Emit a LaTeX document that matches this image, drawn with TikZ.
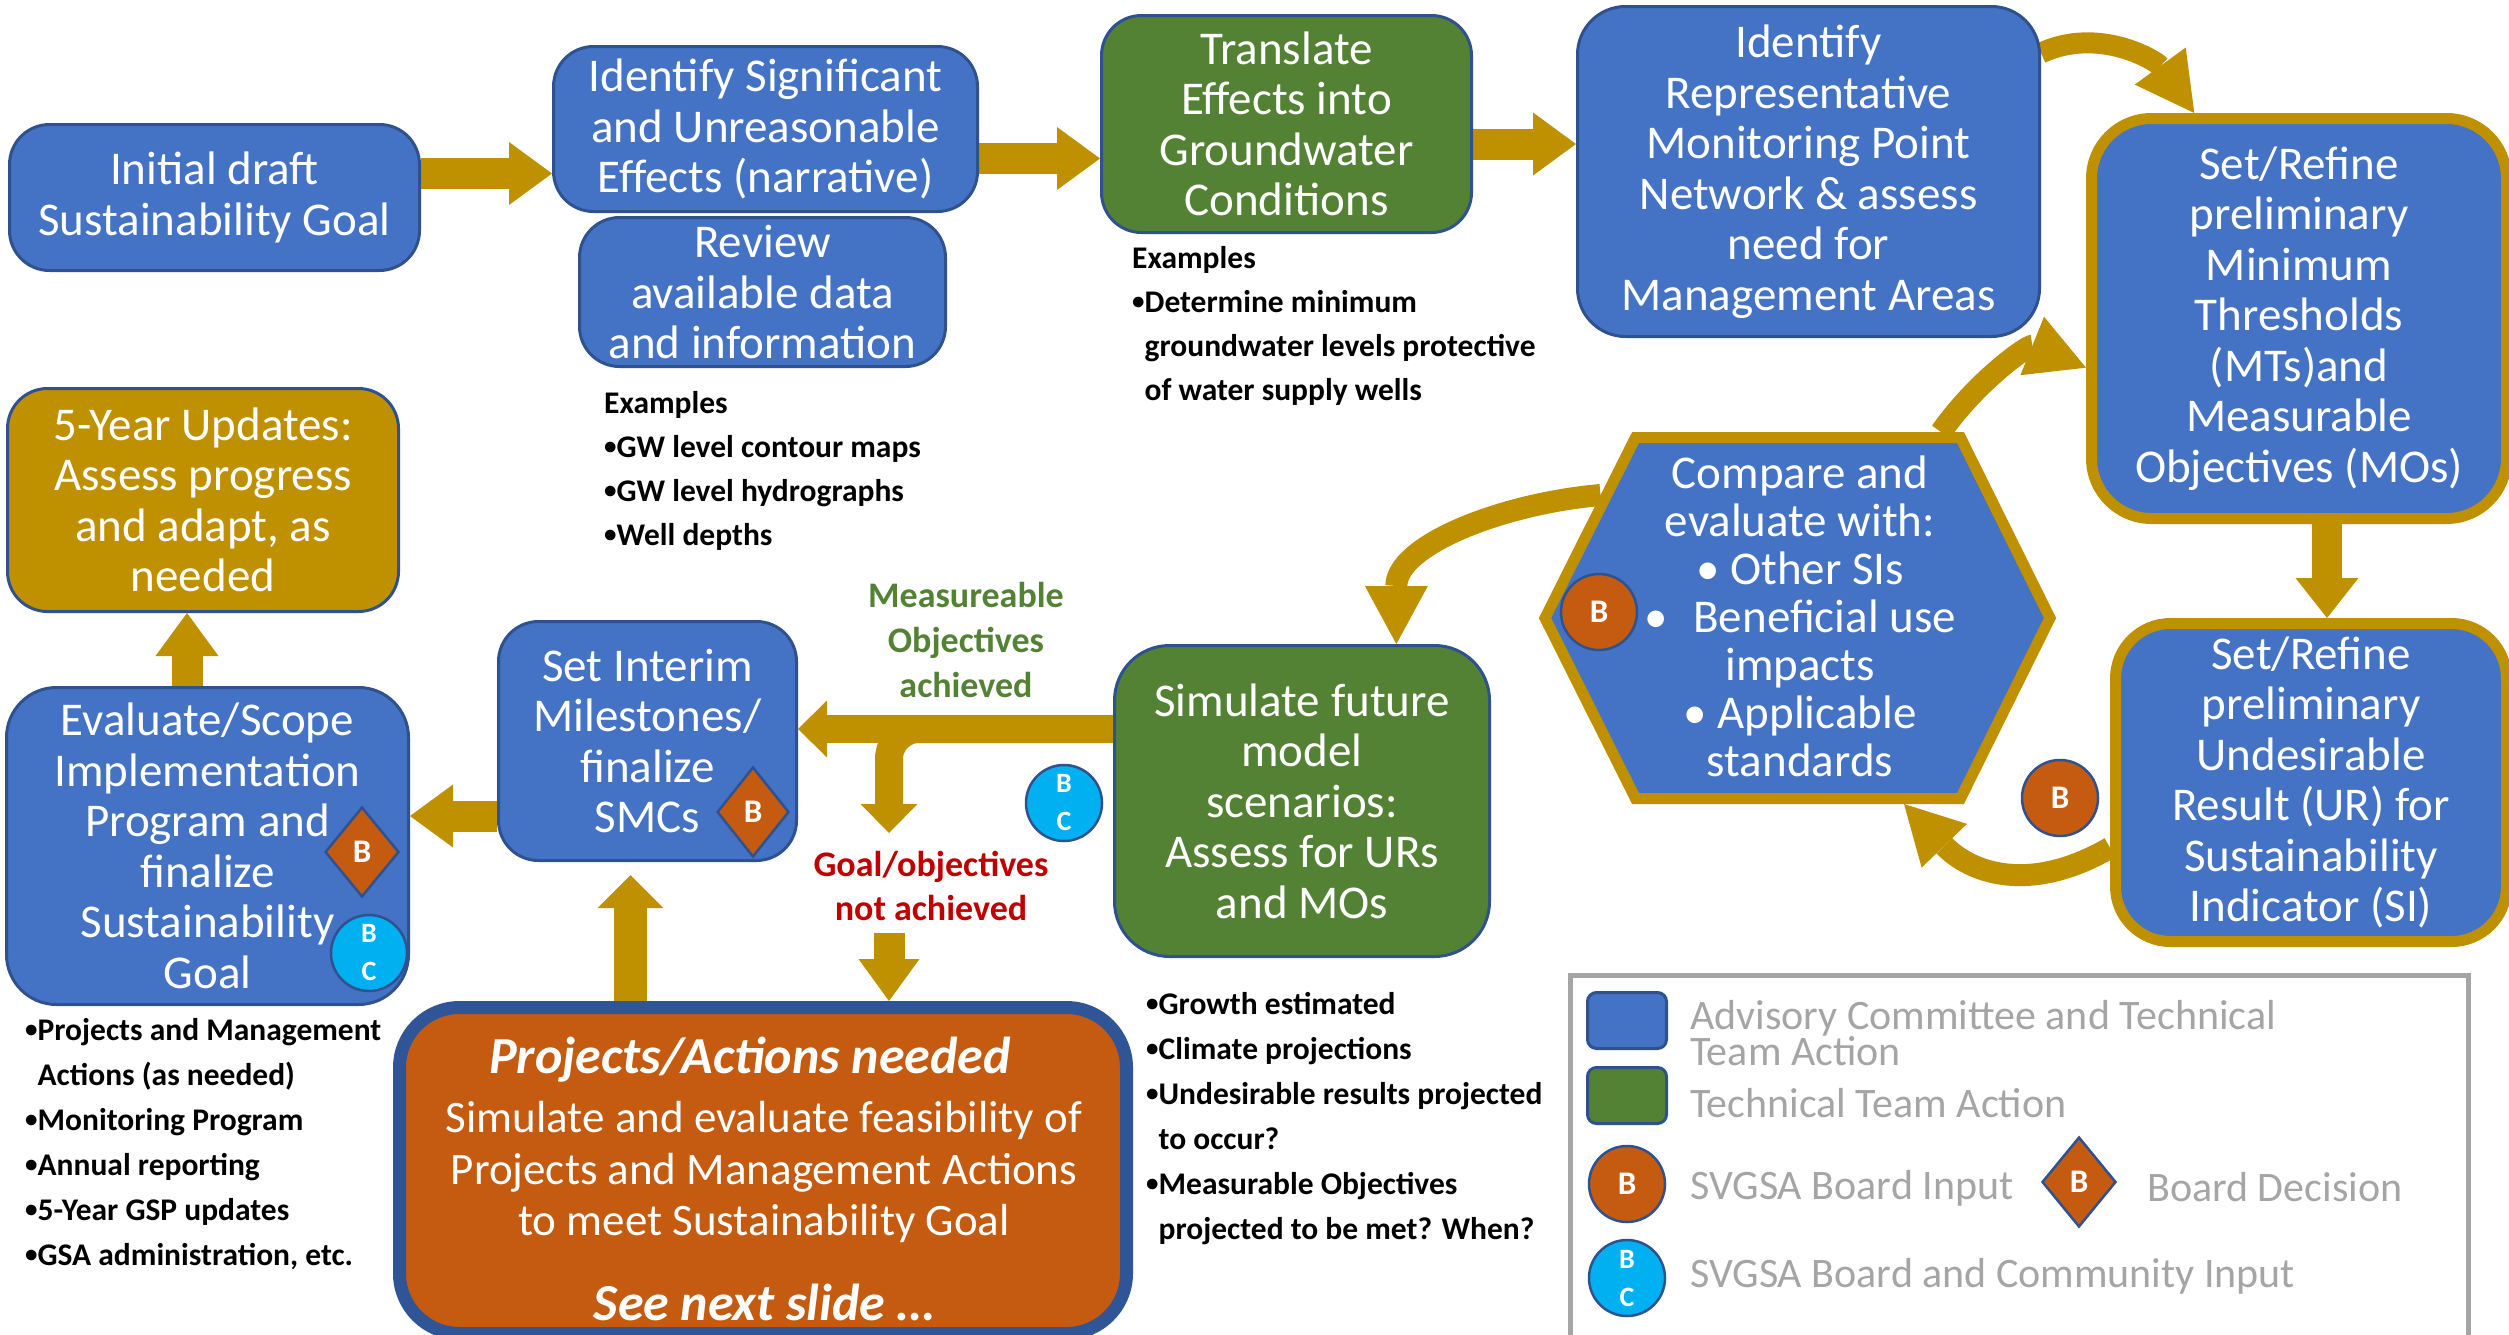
\documentclass[tikz,border=0pt]{standalone}
\usepackage{fontspec}
\setmainfont{Carlito}
\usetikzlibrary{arrows.meta,shapes.geometric,calc}
\definecolor{blueF}{HTML}{4472C4}
\definecolor{blueD}{HTML}{2F528F}
\definecolor{greenF}{HTML}{548235}
\definecolor{goldC}{HTML}{BF9000}
\definecolor{orangeC}{HTML}{C55A11}
\definecolor{cyanC}{HTML}{00B0F0}
\definecolor{redT}{HTML}{C00000}
\definecolor{greenT}{HTML}{548235}
\definecolor{lgray}{HTML}{A5A5A5}
\definecolor{projD}{HTML}{2F5597}
\pgfdeclarelayer{bg}
\pgfsetlayers{bg,main}
\newcommand\mainfs{\fontsize{47}{50.5}\selectfont}
\newcommand\hexfs{\fontsize{47}{48}\selectfont}
\newcommand\exfs{\fontsize{31.5}{44}\selectfont\bfseries}
\newcommand\exfsb{\fontsize{31.5}{45}\selectfont\bfseries}
\newcommand\lblfs{\fontsize{36}{45}\selectfont\bfseries}
\newcommand\legfs{\fontsize{42}{30}\selectfont}
\newcommand\badgefs{\fontsize{33}{36}\selectfont\bfseries}
\newcommand\bcfs{\fontsize{28}{38}\selectfont\bfseries}
\newcommand\bul{\raisebox{2.5pt}{\fontsize{25}{25}\selectfont •}}
\newcommand\bullitem{\hphantom{\bul}}
\begin{document}
\begin{tikzpicture}[x=1pt,y=-1pt,
  box/.style={rectangle, rounded corners=#1, fill=blueF, draw=blueD, line width=3pt,
    text=white, align=center, inner sep=0pt, font=\mainfs},
  box/.default=40pt,
  gbox/.style={box=#1, draw=goldC, line width=11pt},
  gbox/.default=60pt,
  gA/.style={draw=goldC, line width=31pt, -{Triangle[length=43pt,width=63pt,line width=0pt]}},
  gS/.style={draw=goldC, line width=28pt, -{Triangle[length=29pt,width=57pt,line width=0pt]}},
  gC/.style={draw=goldC, line width=22pt, -{Triangle[length=58pt,width=63pt,line width=0pt]}},
  bB/.style={circle, fill=orangeC, draw=blueD, line width=2.5pt, minimum size=76pt,
    inner sep=0pt, text=white, font=\badgefs},
  bBC/.style={circle, fill=cyanC, draw=blueD, line width=2.5pt, minimum size=76pt,
    inner sep=0pt, text=white, align=center, font=\bcfs},
  dB/.style={diamond, fill=orangeC, draw=blueD, line width=2.5pt, minimum width=74pt,
    minimum height=90pt, inner sep=0pt, text=white, font=\badgefs},
  extxt/.style={anchor=north west, align=left, inner sep=0pt, font=\exfs},
  legtxt/.style={anchor=west, align=left, inner sep=0pt, text=lgray, font=\legfs}
]
\useasboundingbox (0,0) rectangle (2509,1334);

% ---------- boxes ----------
\node[box, minimum width=410pt, minimum height=146pt] (init) at (214.5,197.5)
  {Initial draft\\Sustainability Goal};
\node[box, minimum width=424pt, minimum height=165pt] (ident) at (765.5,129)
  {Identify Significant\\and Unreasonable\\Effects (narrative)};
\node[box, minimum width=366pt, minimum height=149pt] (review) at (762.5,292)
  {Review\\available data\\and information};
\node[box, fill=greenF, minimum width=370pt, minimum height=217pt] (transl) at (1286.5,124)
  {Translate\\Effects into\\Groundwater\\Conditions};
\node[box=48pt, minimum width=462pt, minimum height=330pt] (repr) at (1808.5,171.5)
  {Identify\\Representative\\Monitoring Point\\Network \& assess\\need for\\Management Areas};
\node[gbox, minimum width=415pt, minimum height=400pt] (mt) at (2299,318.5)
  {Set/Refine\\preliminary\\Minimum\\Thresholds\\(MTs)and\\Measurable\\Objectives (MOs)};
\node[gbox=55pt, minimum width=391pt, minimum height=318pt] (ur) at (2311,782.5)
  {Set/Refine\\preliminary\\Undesirable\\Result (UR) for\\Sustainability\\Indicator (SI)};
\node[box=55pt, fill=greenF, minimum width=375pt, minimum height=311pt] (sim) at (1302,801)
  {Simulate future\\model\\scenarios:\\Assess for URs\\and MOs};
\node[box, minimum width=298pt, minimum height=239pt] (interim) at (647.5,741)
  {Set Interim\\Milestones/\\finalize\\SMCs};
\node[box=50pt, minimum width=402pt, minimum height=317pt] (eval) at (207.5,846)
  {Evaluate/Scope\\Implementation\\Program and\\finalize\\Sustainability\\Goal};
\node[box, fill=goldC, minimum width=391pt, minimum height=223pt] (five) at (203,500)
  {5-Year Updates:\\Assess progress\\and adapt, as\\needed};
\node[box=60pt, fill=orangeC, draw=projD, line width=13pt, minimum width=727pt,
  minimum height=326pt] (proj) at (763,1170.5) {};
\node[text=white, inner sep=0pt, font=\fontsize{52}{56}\selectfont\bfseries\itshape]
  (projT) at (750,1060) {Projects/Actions needed};
\node[text=white, inner sep=0pt, align=center, font=\fontsize{45}{51.5}\selectfont]
  (projB) at (764,1172) {Simulate and evaluate feasibility of\\Projects and Management Actions\\to meet Sustainability Goal};
\node[text=white, inner sep=0pt, font=\fontsize{52}{56}\selectfont\bfseries\itshape]
  (projS) at (764,1302) {See next slide …};

% ---------- hexagon ----------
\coordinate (hL) at (1545,618);
\coordinate (hTL) at (1635.5,437.5);
\coordinate (hTR) at (1960.5,437.5);
\coordinate (hR) at (2050,618);
\coordinate (hBR) at (1960.5,798.5);
\coordinate (hBL) at (1635.5,798.5);
\draw[fill=blueF, draw=goldC, line width=11pt] (hL) -- (hTL) -- (hTR) -- (hR) -- (hBR) -- (hBL) -- cycle;
\node[text=white, align=center, inner sep=0pt, font=\hexfs] (hex) at (1800,616)
  {Compare and\\evaluate with:\\• Other SIs\\•\hspace{0.55em}Beneficial use\\impacts\\• Applicable\\standards};
\coordinate (hexA) at (1941,432);
\coordinate (hexB) at (1904,804);
\coordinate (hexC) at (1600.5,495);

% ---------- labels ----------
\node[text=greenT, align=center, inner sep=0pt, font=\lblfs] (lblOK) at (966,640)
  {Measureable\\Objectives\\achieved};
\node[text=redT, align=center, inner sep=0pt, font=\fontsize{36}{44}\selectfont\bfseries] (lblNO) at (931,886)
  {Goal/objectives\\not achieved};

% ---------- example lists ----------
\node[extxt] (exRev) at (604,391)
  {Examples\\\bul GW level contour maps\\\bul GW level hydrographs\\\bul Well depths};
\node[extxt] (exTr) at (1132,246)
  {Examples\\\bul Determine minimum\\\bullitem groundwater levels protective\\\bullitem of water supply wells};
\node[extxt, font=\exfsb] (exEv) at (25,1018)
  {\bul Projects and Management\\\bullitem Actions (as needed)\\\bul Monitoring Program\\\bul Annual reporting\\\bul 5-Year GSP updates\\\bul GSA administration, etc.};
\node[extxt, font=\exfsb] (exSim) at (1146,992)
  {\bul Growth estimated\\\bul Climate projections\\\bul Undesirable results projected\\\bullitem to occur?\\\bul Measurable Objectives\\\bullitem projected to be met? When?};

% ---------- legend ----------
\node[draw=lgray, line width=5pt, minimum width=898pt, minimum height=400pt, anchor=north west,
  inner sep=0pt] (legend) at (1567.5,972.5) {};
\node[rectangle, rounded corners=9pt, fill=blueF, draw=blueD, line width=3pt,
  minimum width=79pt, minimum height=56pt] (legBlue) at (1627,1020.5) {};
\node[rectangle, rounded corners=9pt, fill=greenF, draw=blueD, line width=3pt,
  minimum width=79pt, minimum height=56pt] (legGreen) at (1627,1095.5) {};
\node[legtxt] (legT1) at (1690,1033) {Advisory Committee and Technical\\Team Action};
\node[legtxt] (legT2) at (1690,1103) {Technical Team Action};
\node[bB] (legB) at (1627,1184) {B};
\node[legtxt] (legT3) at (1690,1188) {SVGSA Board Input};
\node[dB] (legD) at (2079,1182) {B};
\node[legtxt] (legT4) at (2147,1187) {Board Decision};
\node[bBC] (legBC) at (1627,1278) {B\\C};
\node[legtxt] (legT5) at (1690,1276) {SVGSA Board and Community Input};

% ---------- badges ----------
\node[bB] (bHex) at (1599,612) {B};
\node[bB] (bUR) at (2060,798) {B};
\node[bBC] (bcSim) at (1064,803) {B\\C};
\node[dB, minimum width=72pt] (dInt) at (753,812) {B};
\node[dB] (dEval) at (362,852) {B};
\node[bBC] (bcEval) at (369,953) {B\\C};

% ---------- arrows ----------
\begin{pgfonlayer}{bg}
\coordinate (yK) at (0,173.5);
\coordinate (yL) at (0,158.5);
\coordinate (yM) at (0,144);
\coordinate (xN) at (2327,0);
\coordinate (yE) at (0,729);
\coordinate (brT) at (889,833);
\coordinate (yG) at (0,816);
\coordinate (xH) at (187,0);
\coordinate (xI) at (630.5,0);
\coordinate (iTip) at (630.5,875);
\coordinate (jS) at (889,933);
\draw[gA] (init.east |- yK) -- (ident.west |- yK);
\draw[gA] (ident.east |- yL) -- (transl.west |- yL);
\draw[gA] (transl.east |- yM) -- (repr.west |- yM);
\draw[gA, line width=30pt, -{Triangle[length=40pt,width=63pt,line width=0pt]}] (mt.south -| xN) -- (ur.north -| xN);
\draw[gC, line width=21pt] (repr.27) to[out=25,in=126] (mt.117.6);
\draw[gC] (hexA) to[out=55,in=158] (mt.193.85);
\draw[gC] (ur.198.8) to[out=210,in=-46,looseness=1.15] (hexB);
\draw[gC] (hexC) to[out=185,in=90] (sim.59.9);
\draw[gS] (sim.west |- yE) -- (interim.east |- yE);
\draw[gS, rounded corners=30pt] (sim.west |- yE) -| (brT);
\draw[gA] (interim.west |- yG) -- (eval.east |- yG);
\draw[gA] (eval.north -| xH) -- (five.south -| xH);
\draw[gA, line width=33pt, -{Triangle[length=33pt,width=66pt,line width=0pt]}] (proj.north -| xI) -- (iTip);
\draw[gA, -{Triangle[length=42pt,width=61pt,line width=0pt]}] (jS) -- (proj.north -| jS);
\end{pgfonlayer}
\end{tikzpicture}
\end{document}
